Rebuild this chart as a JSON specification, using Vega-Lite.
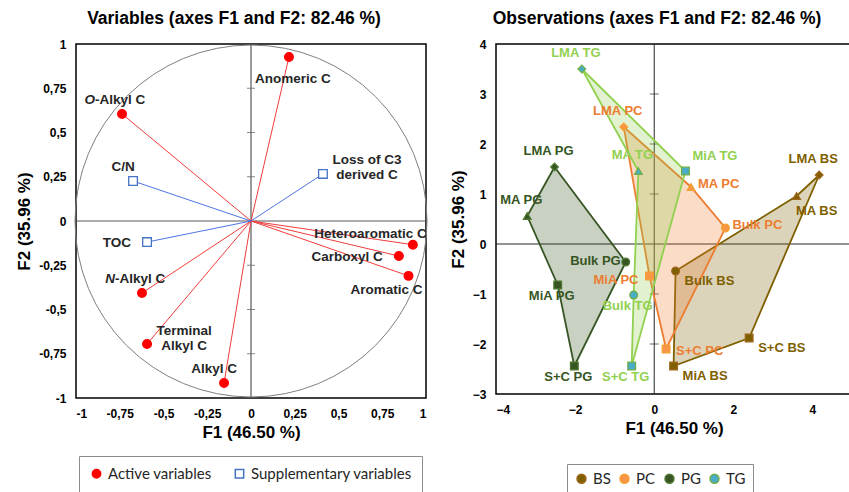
{
  "$schema": "https://vega.github.io/schema/vega-lite/v6.json",
  "background": "white",
  "padding": {"left": 14, "top": 8, "right": 0, "bottom": 0},
  "spacing": 18,
  "resolve": {"scale": {"shape": "independent", "fill": "independent", "stroke": "independent", "color": "independent"}, "legend": {"shape": "independent", "fill": "independent", "stroke": "independent", "color": "independent"}},
  "config": {
    "font": "Liberation Sans",
    "view": {"stroke": "#000000", "strokeWidth": 1.5},
    "axis": {"grid": false, "ticks": false, "domain": false, "labelFont": "Liberation Sans", "labelFontWeight": "bold", "labelFontSize": 12, "labelColor": "#000000", "labelPadding": 10, "titleFont": "Liberation Sans", "titleFontSize": 17, "titleFontWeight": "bold", "titleColor": "#000000", "titlePadding": 5},
    "title": {"font": "Liberation Sans", "fontSize": 17.5, "fontWeight": "bold", "color": "#000000", "offset": 11, "dx": -17},
    "legend": {"orient": "none", "direction": "horizontal", "strokeColor": "#8c8c8c", "padding": 8, "labelFont": "Lato", "labelFontSize": 15, "labelColor": "#262626", "labelLimit": 400, "columnPadding": 14, "symbolStrokeWidth": 1.5}
  },
  "datasets": {
    "vars": [
      {"name": "Anomeric C", "pre": "", "rest": "Anomeric C", "type": "Active variables", "F1": 0.217, "F2": 0.927},
      {"name": "O-Alkyl C", "pre": "O", "rest": "-Alkyl  C", "type": "Active variables", "F1": -0.737, "F2": 0.605},
      {"name": "Heteroaromatic C", "pre": "", "rest": "Heteroaromatic C", "type": "Active variables", "F1": 0.925, "F2": -0.134},
      {"name": "Carboxyl C", "pre": "", "rest": "Carboxyl C", "type": "Active variables", "F1": 0.845, "F2": -0.198},
      {"name": "Aromatic C", "pre": "", "rest": "Aromatic  C", "type": "Active variables", "F1": 0.9, "F2": -0.31},
      {"name": "N-Alkyl C", "pre": "N", "rest": "-Alkyl  C", "type": "Active variables", "F1": -0.623, "F2": -0.407},
      {"name": "Terminal Alkyl C", "pre": "", "rest": "Terminal\nAlkyl  C", "type": "Active variables", "F1": -0.594, "F2": -0.695},
      {"name": "Alkyl C", "pre": "", "rest": "Alkyl  C", "type": "Active variables", "F1": -0.154, "F2": -0.915},
      {"name": "C/N", "pre": "", "rest": "C/N", "type": "Supplementary variables", "F1": -0.674, "F2": 0.226},
      {"name": "Loss of C3 derived C", "pre": "", "rest": "Loss of C3\nderived C", "type": "Supplementary variables", "F1": 0.411, "F2": 0.266},
      {"name": "TOC", "pre": "", "rest": "TOC", "type": "Supplementary variables", "F1": -0.594, "F2": -0.119}
    ],
    "obs": [
      {"id": "LMA TG", "label": "LMA TG", "frac": "LMA", "group": "TG", "F1": -1.83, "F2": 3.5, "hull": 1},
      {"id": "MA TG", "label": "MA  TG", "frac": "MA", "group": "TG", "F1": -0.4, "F2": 1.46, "hull": 5},
      {"id": "MiA TG", "label": "MiA  TG", "frac": "MiA", "group": "TG", "F1": 0.79, "F2": 1.46, "hull": 2},
      {"id": "Bulk TG", "label": "Bulk  TG", "frac": "Bulk", "group": "TG", "F1": -0.52, "F2": -1.02, "hull": 4},
      {"id": "S+C TG", "label": "S+C  TG", "frac": "S+C", "group": "TG", "F1": -0.57, "F2": -2.44, "hull": 3},
      {"id": "LMA PC", "label": "LMA PC", "frac": "LMA", "group": "PC", "F1": -0.77, "F2": 2.34, "hull": 1},
      {"id": "MA PC", "label": "MA  PC", "frac": "MA", "group": "PC", "F1": 0.93, "F2": 1.14, "hull": 2},
      {"id": "Bulk PC", "label": "Bulk PC", "frac": "Bulk", "group": "PC", "F1": 1.8, "F2": 0.32, "hull": 3},
      {"id": "S+C PC", "label": "S+C  PC", "frac": "S+C", "group": "PC", "F1": 0.3, "F2": -2.1, "hull": 4},
      {"id": "MiA PC", "label": "MiA  PC", "frac": "MiA", "group": "PC", "F1": -0.12, "F2": -0.64, "hull": 5},
      {"id": "LMA BS", "label": "LMA BS", "frac": "LMA", "group": "BS", "F1": 4.17, "F2": 1.38, "hull": 1},
      {"id": "S+C BS", "label": "S+C  BS", "frac": "S+C", "group": "BS", "F1": 2.4, "F2": -1.88, "hull": 2},
      {"id": "MiA BS", "label": "MiA  BS", "frac": "MiA", "group": "BS", "F1": 0.49, "F2": -2.44, "hull": 3},
      {"id": "Bulk BS", "label": "Bulk BS", "frac": "Bulk", "group": "BS", "F1": 0.54, "F2": -0.54, "hull": 4},
      {"id": "MA BS", "label": "MA  BS", "frac": "MA", "group": "BS", "F1": 3.6, "F2": 0.96, "hull": 5},
      {"id": "LMA PG", "label": "LMA PG", "frac": "LMA", "group": "PG", "F1": -2.52, "F2": 1.54, "hull": 1},
      {"id": "Bulk PG", "label": "Bulk PG", "frac": "Bulk", "group": "PG", "F1": -0.72, "F2": -0.36, "hull": 2},
      {"id": "S+C PG", "label": "S+C  PG", "frac": "S+C", "group": "PG", "F1": -2.02, "F2": -2.44, "hull": 3},
      {"id": "MiA PG", "label": "MiA PG", "frac": "MiA", "group": "PG", "F1": -2.44, "F2": -0.82, "hull": 4},
      {"id": "MA PG", "label": "MA  PG", "frac": "MA", "group": "PG", "F1": -3.21, "F2": 0.56, "hull": 5}
    ],
    "leftTicks": [{"v": 0.75}, {"v": 0.5}, {"v": 0.25}, {"v": -0.25}, {"v": -0.5}, {"v": -0.75}],
    "rightTicks": [{"v": 3}, {"v": 2}, {"v": 1}, {"v": -1}, {"v": -2}]
  },
  "hconcat": [
    {
      "title": "Variables (axes F1 and F2: 82.46 %)",
      "width": 350,
      "height": 354,
      "layer": [
        {
          "data": {"values": [{"c": 0}]},
          "mark": {"type": "point", "shape": "circle", "filled": false, "size": 123904, "stroke": "#7f7f7f", "strokeWidth": 1, "opacity": 1},
          "encoding": {
            "x": {"datum": 0, "type": "quantitative", "scale": {"domain": [-1, 1]}, "axis": {"title": "F1 (46.50 %)", "values": [-1, -0.75, -0.5, -0.25, 0, 0.25, 0.5, 0.75, 1], "labelExpr": "replace(toString(datum.value), '.', ',')"}},
            "y": {"datum": 0, "type": "quantitative", "scale": {"domain": [-1, 1]}, "axis": {"title": "F2 (35.96 %)", "values": [-1, -0.75, -0.5, -0.25, 0, 0.25, 0.5, 0.75, 1], "labelExpr": "replace(toString(datum.value), '.', ',')"}}
          }
        },
        {
          "data": {"values": [{"c": 0}]},
          "mark": {"type": "rule", "color": "#595959", "strokeWidth": 1.2},
          "encoding": {"y": {"datum": 0, "type": "quantitative"}}
        },
        {
          "data": {"values": [{"c": 0}]},
          "mark": {"type": "rule", "color": "#595959", "strokeWidth": 1.2},
          "encoding": {"x": {"datum": 0, "type": "quantitative"}}
        },
        {
          "data": {"name": "leftTicks"},
          "mark": {"type": "tick", "orient": "horizontal", "size": 8, "thickness": 1, "color": "#595959"},
          "encoding": {"x": {"datum": 0, "type": "quantitative"}, "y": {"field": "v", "type": "quantitative"}}
        },
        {
          "data": {"name": "vars"},
          "transform": [{"filter": {"field": "type", "equal": "Active variables"}}],
          "mark": {"type": "rule", "strokeWidth": 1, "color": "#f03c3c"},
          "encoding": {
            "x": {"field": "F1", "type": "quantitative"},
            "y": {"field": "F2", "type": "quantitative"},
            "x2": {"datum": 0},
            "y2": {"datum": 0}
          }
        },
        {
          "data": {"name": "vars"},
          "transform": [{"filter": {"field": "type", "equal": "Supplementary variables"}}],
          "mark": {"type": "rule", "strokeWidth": 1, "color": "#4f74e3"},
          "encoding": {
            "x": {"field": "F1", "type": "quantitative"},
            "y": {"field": "F2", "type": "quantitative"},
            "x2": {"datum": 0},
            "y2": {"datum": 0}
          }
        },
        {
          "data": {"name": "vars"},
          "mark": {"type": "point", "size": 75, "strokeWidth": 1.3, "opacity": 1},
          "encoding": {
            "x": {"field": "F1", "type": "quantitative"},
            "y": {"field": "F2", "type": "quantitative"},
            "shape": {"field": "type", "type": "nominal", "scale": {"domain": ["Active variables", "Supplementary variables"], "range": ["circle", "square"]}, "legend": {"title": null, "symbolSize": 70, "labelFontSize": 15, "columnPadding": 20, "padding": 10, "legendX": 3, "legendY": 412}},
            "fill": {"field": "type", "type": "nominal", "scale": {"domain": ["Active variables", "Supplementary variables"], "range": ["#ff0000", "#ffffff"]}, "legend": {"title": null, "symbolSize": 70, "labelFontSize": 15, "columnPadding": 20, "padding": 10, "legendX": 3, "legendY": 412}},
            "stroke": {"field": "type", "type": "nominal", "scale": {"domain": ["Active variables", "Supplementary variables"], "range": ["#ff0000", "#4472c4"]}, "legend": {"title": null, "symbolSize": 70, "labelFontSize": 15, "columnPadding": 20, "padding": 10, "legendX": 3, "legendY": 412}}
          }
        },
        {
          "data": {"name": "vars"},
          "transform": [{"filter": {"field": "name", "oneOf": ["C/N", "Alkyl C"]}}],
          "mark": {"type": "text", "font": "Liberation Sans", "fontWeight": "bold", "fontSize": 13.5, "color": "#262626", "align": "center", "baseline": "middle", "dx": -10, "dy": -14},
          "encoding": {"x": {"field": "F1", "type": "quantitative"}, "y": {"field": "F2", "type": "quantitative"}, "text": {"field": "rest"}}
        },
        {
          "data": {"name": "vars"},
          "transform": [{"filter": {"field": "name", "oneOf": ["O-Alkyl C", "N-Alkyl C"]}}],
          "mark": {"type": "text", "font": "Liberation Sans", "fontWeight": "bold", "fontStyle": "italic", "fontSize": 13.5, "color": "#262626", "align": "right", "baseline": "middle", "dx": -27, "dy": -14},
          "encoding": {"x": {"field": "F1", "type": "quantitative"}, "y": {"field": "F2", "type": "quantitative"}, "text": {"field": "pre"}}
        },
        {
          "data": {"name": "vars"},
          "transform": [{"filter": {"field": "name", "oneOf": ["O-Alkyl C", "N-Alkyl C"]}}],
          "mark": {"type": "text", "font": "Liberation Sans", "fontWeight": "bold", "fontSize": 13.5, "color": "#262626", "align": "left", "baseline": "middle", "dx": -27, "dy": -14},
          "encoding": {"x": {"field": "F1", "type": "quantitative"}, "y": {"field": "F2", "type": "quantitative"}, "text": {"field": "rest"}}
        },
        {
          "data": {"name": "vars"},
          "transform": [{"filter": {"field": "name", "equal": "Anomeric C"}}],
          "mark": {"type": "text", "font": "Liberation Sans", "fontWeight": "bold", "fontSize": 13.5, "color": "#262626", "align": "left", "baseline": "middle", "dx": -34, "dy": 22},
          "encoding": {"x": {"field": "F1", "type": "quantitative"}, "y": {"field": "F2", "type": "quantitative"}, "text": {"field": "rest"}}
        },
        {
          "data": {"name": "vars"},
          "transform": [{"filter": {"field": "name", "equal": "Loss of C3 derived C"}}],
          "mark": {"type": "text", "font": "Liberation Sans", "fontWeight": "bold", "fontSize": 13.5, "color": "#262626", "align": "center", "baseline": "middle", "lineBreak": "\n", "lineHeight": 15, "dx": 44, "dy": -14},
          "encoding": {"x": {"field": "F1", "type": "quantitative"}, "y": {"field": "F2", "type": "quantitative"}, "text": {"field": "rest"}}
        },
        {
          "data": {"name": "vars"},
          "transform": [{"filter": {"field": "name", "equal": "Terminal Alkyl C"}}],
          "mark": {"type": "text", "font": "Liberation Sans", "fontWeight": "bold", "fontSize": 13.5, "color": "#262626", "align": "center", "baseline": "middle", "lineBreak": "\n", "lineHeight": 15, "dx": 37, "dy": -13},
          "encoding": {"x": {"field": "F1", "type": "quantitative"}, "y": {"field": "F2", "type": "quantitative"}, "text": {"field": "rest"}}
        },
        {
          "data": {"name": "vars"},
          "transform": [{"filter": {"field": "name", "oneOf": ["TOC", "Carboxyl C"]}}],
          "mark": {"type": "text", "font": "Liberation Sans", "fontWeight": "bold", "fontSize": 13.5, "color": "#262626", "align": "right", "baseline": "middle", "dx": -16, "dy": 1},
          "encoding": {"x": {"field": "F1", "type": "quantitative"}, "y": {"field": "F2", "type": "quantitative"}, "text": {"field": "rest"}}
        },
        {
          "data": {"name": "vars"},
          "transform": [{"filter": {"field": "name", "equal": "Heteroaromatic C"}}],
          "mark": {"type": "text", "font": "Liberation Sans", "fontWeight": "bold", "fontSize": 13.5, "color": "#262626", "align": "right", "baseline": "middle", "dx": 14, "dy": -11},
          "encoding": {"x": {"field": "F1", "type": "quantitative"}, "y": {"field": "F2", "type": "quantitative"}, "text": {"field": "rest"}}
        },
        {
          "data": {"name": "vars"},
          "transform": [{"filter": {"field": "name", "equal": "Aromatic C"}}],
          "mark": {"type": "text", "font": "Liberation Sans", "fontWeight": "bold", "fontSize": 13.5, "color": "#262626", "align": "right", "baseline": "middle", "dx": 14, "dy": 14},
          "encoding": {"x": {"field": "F1", "type": "quantitative"}, "y": {"field": "F2", "type": "quantitative"}, "text": {"field": "rest"}}
        }
      ]
    },
    {
      "title": "Observations (axes F1 and F2: 82.46 %)",
      "width": 356,
      "height": 350,
      "layer": [
        {
          "data": {"values": [{"c": 0}]},
          "mark": {"type": "rule", "color": "#262626", "strokeWidth": 1},
          "encoding": {
            "y": {"datum": 0, "type": "quantitative", "scale": {"domain": [-3, 4]}, "axis": {"title": "F2 (35.96 %)", "values": [-3, -2, -1, 0, 1, 2, 3, 4]}}
          }
        },
        {
          "data": {"values": [{"c": 0}]},
          "mark": {"type": "rule", "color": "#262626", "strokeWidth": 1},
          "encoding": {
            "x": {"datum": 0, "type": "quantitative", "scale": {"domain": [-4, 4.8]}, "axis": {"title": "F1 (46.50 %)", "values": [-4, -2, 0, 2, 4]}}
          }
        },
        {
          "data": {"name": "rightTicks"},
          "mark": {"type": "tick", "orient": "horizontal", "size": 9, "thickness": 1, "color": "#262626"},
          "encoding": {"x": {"datum": 0, "type": "quantitative"}, "y": {"field": "v", "type": "quantitative"}}
        },
        {
          "data": {"name": "obs"},
          "transform": [{"filter": {"field": "group", "equal": "BS"}}],
          "mark": {"type": "line", "interpolate": "linear-closed", "stroke": "#7f6000", "strokeWidth": 1.8, "fill": "#7f6000", "fillOpacity": 0.27},
          "encoding": {"x": {"field": "F1", "type": "quantitative"}, "y": {"field": "F2", "type": "quantitative"}, "order": {"field": "hull"}}
        },
        {
          "data": {"name": "obs"},
          "transform": [{"filter": {"field": "group", "equal": "PC"}}],
          "mark": {"type": "line", "interpolate": "linear-closed", "stroke": "#ed7d31", "strokeWidth": 1.8, "fill": "#ed7d31", "fillOpacity": 0.27},
          "encoding": {"x": {"field": "F1", "type": "quantitative"}, "y": {"field": "F2", "type": "quantitative"}, "order": {"field": "hull"}}
        },
        {
          "data": {"name": "obs"},
          "transform": [{"filter": {"field": "group", "equal": "PG"}}],
          "mark": {"type": "line", "interpolate": "linear-closed", "stroke": "#375623", "strokeWidth": 1.8, "fill": "#375623", "fillOpacity": 0.27},
          "encoding": {"x": {"field": "F1", "type": "quantitative"}, "y": {"field": "F2", "type": "quantitative"}, "order": {"field": "hull"}}
        },
        {
          "data": {"name": "obs"},
          "transform": [{"filter": {"field": "group", "equal": "TG"}}],
          "mark": {"type": "line", "interpolate": "linear-closed", "stroke": "#92d050", "strokeWidth": 1.8, "fill": "#92d050", "fillOpacity": 0.27},
          "encoding": {"x": {"field": "F1", "type": "quantitative"}, "y": {"field": "F2", "type": "quantitative"}, "order": {"field": "hull"}}
        },
        {
          "data": {"name": "obs"},
          "mark": {"type": "point", "size": 60, "strokeWidth": 1.2, "opacity": 1, "filled": true},
          "encoding": {
            "x": {"field": "F1", "type": "quantitative"},
            "y": {"field": "F2", "type": "quantitative"},
            "shape": {"field": "frac", "type": "nominal", "scale": {"domain": ["LMA", "MA", "MiA", "Bulk", "S+C"], "range": ["diamond", "triangle-up", "square", "circle", "square"]}, "legend": null},
            "fill": {"field": "group", "type": "nominal", "scale": {"domain": ["BS", "PC", "PG", "TG"], "range": ["#7f6000", "#f79646", "#375623", "#4bacc6"]}, "legend": {"title": null, "symbolType": "circle", "symbolSize": 80, "labelFontSize": 15, "labelOffset": 4, "columnPadding": 6, "symbolStrokeWidth": 1.5, "padding": 7, "legendX": 71, "legendY": 420}},
            "stroke": {"field": "group", "type": "nominal", "scale": {"domain": ["BS", "PC", "PG", "TG"], "range": ["#a0661a", "#f5a030", "#4f7a30", "#70ad47"]}, "legend": {"title": null, "symbolType": "circle", "symbolSize": 80, "labelFontSize": 15, "labelOffset": 4, "columnPadding": 6, "symbolStrokeWidth": 1.5, "padding": 7, "legendX": 71, "legendY": 420}}
          }
        },
        {
          "data": {"name": "obs"},
          "transform": [{"filter": {"field": "id", "oneOf": ["LMA TG", "MA TG", "LMA PC", "LMA BS", "LMA PG", "MA PG"]}}],
          "mark": {"type": "text", "font": "Liberation Sans", "fontWeight": "bold", "fontSize": 13, "align": "center", "baseline": "middle", "dx": -6, "dy": -16},
          "encoding": {"x": {"field": "F1", "type": "quantitative"}, "y": {"field": "F2", "type": "quantitative"}, "text": {"field": "label"}, "color": {"field": "group", "type": "nominal", "scale": {"domain": ["BS", "PC", "PG", "TG"], "range": ["#7f6000", "#ed7d31", "#375623", "#92d050"]}, "legend": null}}
        },
        {
          "data": {"name": "obs"},
          "transform": [{"filter": {"field": "id", "oneOf": ["MiA TG"]}}],
          "mark": {"type": "text", "font": "Liberation Sans", "fontWeight": "bold", "fontSize": 13, "align": "left", "baseline": "middle", "dx": 7, "dy": -15},
          "encoding": {"x": {"field": "F1", "type": "quantitative"}, "y": {"field": "F2", "type": "quantitative"}, "text": {"field": "label"}, "color": {"field": "group", "type": "nominal", "legend": null}}
        },
        {
          "data": {"name": "obs"},
          "transform": [{"filter": {"field": "id", "oneOf": ["MA PC", "Bulk PC"]}}],
          "mark": {"type": "text", "font": "Liberation Sans", "fontWeight": "bold", "fontSize": 13, "align": "left", "baseline": "middle", "dx": 7, "dy": -3},
          "encoding": {"x": {"field": "F1", "type": "quantitative"}, "y": {"field": "F2", "type": "quantitative"}, "text": {"field": "label"}, "color": {"field": "group", "type": "nominal", "legend": null}}
        },
        {
          "data": {"name": "obs"},
          "transform": [{"filter": {"field": "id", "oneOf": ["Bulk BS", "S+C BS", "MiA BS"]}}],
          "mark": {"type": "text", "font": "Liberation Sans", "fontWeight": "bold", "fontSize": 13, "align": "left", "baseline": "middle", "dx": 9, "dy": 10},
          "encoding": {"x": {"field": "F1", "type": "quantitative"}, "y": {"field": "F2", "type": "quantitative"}, "text": {"field": "label"}, "color": {"field": "group", "type": "nominal", "legend": null}}
        },
        {
          "data": {"name": "obs"},
          "transform": [{"filter": {"field": "id", "oneOf": ["S+C PC"]}}],
          "mark": {"type": "text", "font": "Liberation Sans", "fontWeight": "bold", "fontSize": 13, "align": "left", "baseline": "middle", "dx": 10, "dy": 2},
          "encoding": {"x": {"field": "F1", "type": "quantitative"}, "y": {"field": "F2", "type": "quantitative"}, "text": {"field": "label"}, "color": {"field": "group", "type": "nominal", "legend": null}}
        },
        {
          "data": {"name": "obs"},
          "transform": [{"filter": {"field": "id", "oneOf": ["MA BS"]}}],
          "mark": {"type": "text", "font": "Liberation Sans", "fontWeight": "bold", "fontSize": 13, "align": "center", "baseline": "middle", "dx": 20, "dy": 15},
          "encoding": {"x": {"field": "F1", "type": "quantitative"}, "y": {"field": "F2", "type": "quantitative"}, "text": {"field": "label"}, "color": {"field": "group", "type": "nominal", "legend": null}}
        },
        {
          "data": {"name": "obs"},
          "transform": [{"filter": {"field": "id", "oneOf": ["Bulk PG"]}}],
          "mark": {"type": "text", "font": "Liberation Sans", "fontWeight": "bold", "fontSize": 13, "align": "right", "baseline": "middle", "dx": -5, "dy": -1},
          "encoding": {"x": {"field": "F1", "type": "quantitative"}, "y": {"field": "F2", "type": "quantitative"}, "text": {"field": "label"}, "color": {"field": "group", "type": "nominal", "legend": null}}
        },
        {
          "data": {"name": "obs"},
          "transform": [{"filter": {"field": "id", "oneOf": ["MiA PC"]}}],
          "mark": {"type": "text", "font": "Liberation Sans", "fontWeight": "bold", "fontSize": 13, "align": "right", "baseline": "middle", "dx": -11, "dy": 4},
          "encoding": {"x": {"field": "F1", "type": "quantitative"}, "y": {"field": "F2", "type": "quantitative"}, "text": {"field": "label"}, "color": {"field": "group", "type": "nominal", "legend": null}}
        },
        {
          "data": {"name": "obs"},
          "transform": [{"filter": {"field": "id", "oneOf": ["MiA PG", "Bulk TG", "S+C PG", "S+C TG"]}}],
          "mark": {"type": "text", "font": "Liberation Sans", "fontWeight": "bold", "fontSize": 13, "align": "center", "baseline": "middle", "dx": -6, "dy": 11},
          "encoding": {"x": {"field": "F1", "type": "quantitative"}, "y": {"field": "F2", "type": "quantitative"}, "text": {"field": "label"}, "color": {"field": "group", "type": "nominal", "legend": null}}
        }
      ]
    }
  ]
}
